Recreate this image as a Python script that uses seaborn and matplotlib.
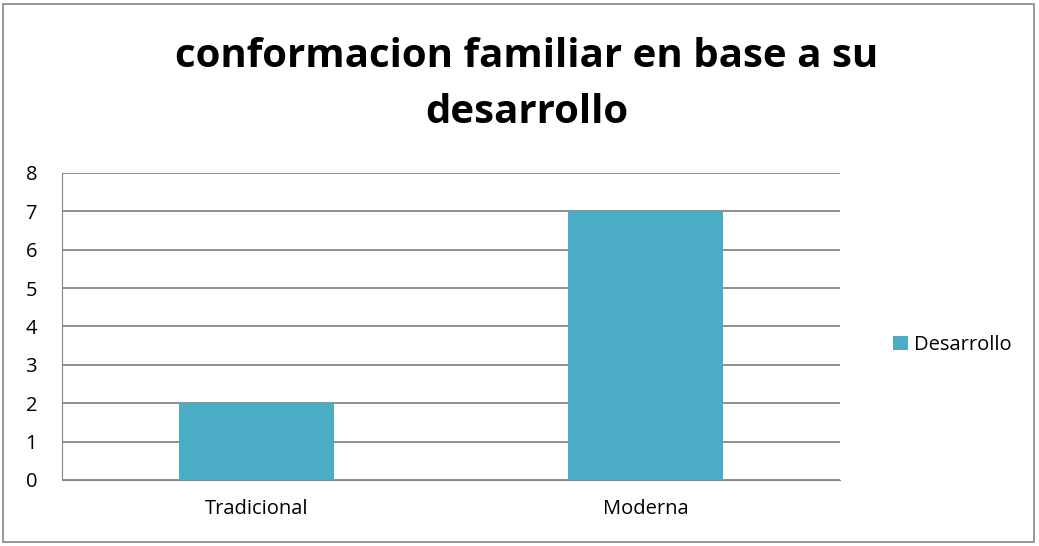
import seaborn as sns
import pandas as pd
from matplotlib import pyplot as plt
from matplotlib.patches import Rectangle

categorias = ["Tradicional", "Moderna"]
valores = [2, 7]
serie = "Desarrollo"

df = pd.DataFrame({"tipo": categorias, "valor": valores, "serie": serie})

sns.set_style("white")
plt.rcParams["font.family"] = ["Open Sans", "DejaVu Sans"]
plt.rcParams["text.color"] = "black"
plt.rcParams["xtick.color"] = "black"
plt.rcParams["ytick.color"] = "black"

fig = plt.figure(figsize=(10.39, 5.46), dpi=100)
ax = fig.add_axes([0.0597, 0.1209, 0.7488, 0.5623])

sns.barplot(data=df, x="tipo", y="valor", hue="serie", palette=["#4BACC6"],
            width=0.4, saturation=1, linewidth=0, ax=ax)

ax.set_xlim(-0.5, 1.5)
ax.set_ylim(0, 8)
ax.set_yticks(range(0, 9))
ax.yaxis.grid(True, color="#868686", linewidth=1.3)
ax.set_axisbelow(True)
ax.set_xlabel("")
ax.set_ylabel("")
for s in ["top", "right"]:
    ax.spines[s].set_visible(False)
ax.spines["left"].set_color("#868686")
ax.spines["bottom"].set_color("#868686")
ax.tick_params(axis="y", length=6, color="#868686", labelsize=14.5, pad=12)
ax.tick_params(axis="x", which="major", length=0, labelsize=14.5, pad=14)
ax.set_xticks([-0.5, 0.5, 1.5], minor=True)
ax.tick_params(axis="x", which="minor", length=6, color="#868686")

leg = ax.legend(loc="center left", bbox_to_anchor=(1.045, 0.44), frameon=False,
                fontsize=14.5, handlelength=0.75, handleheight=0.75, handletextpad=0.3)

fig.text(0.507, 0.845, "conformacion familiar en base a su\ndesarrollo",
         ha="center", va="center", fontsize=29, fontweight="bold", linespacing=1.55)

fig.patches.append(Rectangle((0.003, 0.008), 0.992, 0.985, transform=fig.transFigure,
                             fill=False, edgecolor="#868686", linewidth=1.2))

plt.savefig("out.png", dpi=100)
